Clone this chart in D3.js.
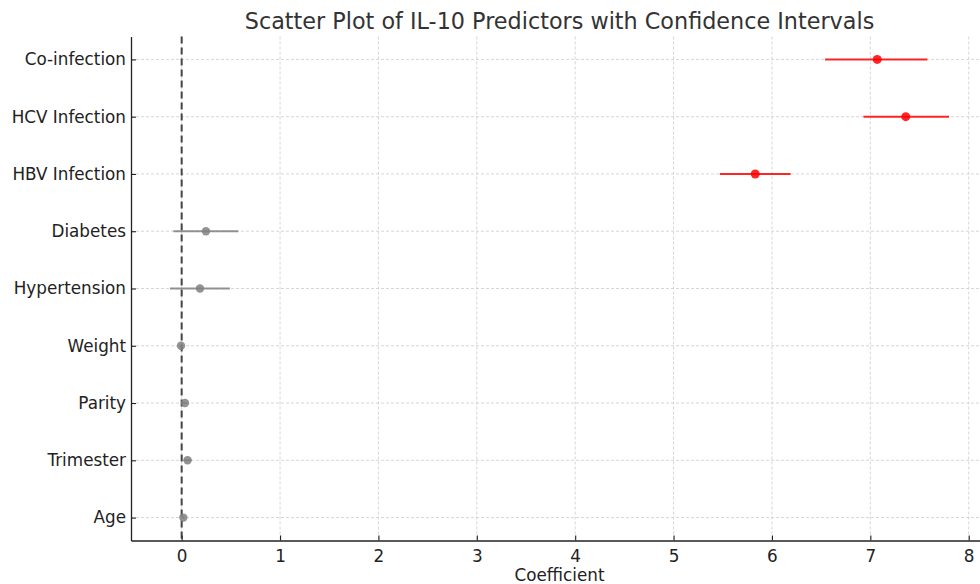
<!DOCTYPE html>
<html>
<head>
<meta charset="utf-8">
<script src="https://cdn.jsdelivr.net/npm/d3@7"></script>
<style>
  body { margin: 0; background: #fff; }
  svg text { font-family: "DejaVu Sans", sans-serif; }
</style>
</head>
<body>
<svg id="chart" width="980" height="584"></svg>
<script>
// Predictors, bottom to top as drawn
var predictors = ["Age", "Trimester", "Parity", "Weight", "Hypertension", "Diabetes",
                  "HBV Infection", "HCV Infection", "Co-infection"];
var coefs = [0.017, 0.06, 0.034, -0.007, 0.186, 0.247, 5.83, 7.36, 7.07];
var ciLow = [0.005, 0.02, 0.015, -0.02, -0.119, -0.085, 5.47, 6.93, 6.54];
var ciHigh = [0.03, 0.10, 0.05, 0.005, 0.49, 0.575, 6.19, 7.80, 7.58];
var significant = [false, false, false, false, false, false, true, true, true];
var xTicks = [0, 1, 2, 3, 4, 5, 6, 7, 8];

var svg = d3.select("#chart");

// Plot area (right side runs past the picture edge, like the original)
var plotLeft = 131, plotRight = 988, plotTop = 36.5, plotBottom = 540.5;

var x = d3.scaleLinear()
  .domain([-0.515, 8.196])
  .range([plotLeft, plotRight]);

var y = d3.scaleLinear()
  .domain([-0.4, predictors.length - 1 + 0.4])
  .range([plotBottom, plotTop]);

// Grid lines
svg.append("g").selectAll("line.vgrid")
  .data(xTicks)
  .enter().append("line")
  .attr("x1", function(d) { return x(d); })
  .attr("x2", function(d) { return x(d); })
  .attr("y1", plotTop)
  .attr("y2", plotBottom)
  .attr("stroke", "#cccccc")
  .attr("stroke-width", 0.8)
  .attr("stroke-dasharray", "3,2");

svg.append("g").selectAll("line.hgrid")
  .data(predictors)
  .enter().append("line")
  .attr("x1", plotLeft)
  .attr("x2", plotRight)
  .attr("y1", function(d, i) { return y(i); })
  .attr("y2", function(d, i) { return y(i); })
  .attr("stroke", "#cccccc")
  .attr("stroke-width", 0.8)
  .attr("stroke-dasharray", "3,2");

// Zero reference line
svg.append("line")
  .attr("x1", x(0))
  .attr("x2", x(0))
  .attr("y1", plotTop)
  .attr("y2", plotBottom)
  .attr("stroke", "#444")
  .attr("stroke-width", 2)
  .attr("stroke-dasharray", "7,4");

// Error bars and points
var rows = svg.append("g").selectAll("g.row")
  .data(predictors)
  .enter().append("g")
  .attr("class", "row");

rows.append("line")
  .attr("x1", function(d, i) { return x(ciLow[i]); })
  .attr("x2", function(d, i) { return x(ciHigh[i]); })
  .attr("y1", function(d, i) { return y(i); })
  .attr("y2", function(d, i) { return y(i); })
  .attr("stroke", function(d, i) { return significant[i] ? "#ff0000" : "#808080"; })
  .attr("stroke-opacity", 0.85)
  .attr("stroke-width", 2);

rows.append("circle")
  .attr("cx", function(d, i) { return x(coefs[i]); })
  .attr("cy", function(d, i) { return y(i); })
  .attr("r", function(d, i) { return significant[i] ? 4.5 : 4.2; })
  .attr("fill", function(d, i) { return significant[i] ? "#ff0000" : "#808080"; })
  .attr("fill-opacity", 0.85);

// Axes
var xAxis = d3.axisBottom(x)
  .tickValues(xTicks)
  .tickSizeInner(-5)
  .tickSizeOuter(0)
  .tickPadding(10);

svg.append("g")
  .attr("transform", "translate(0," + plotBottom + ")")
  .call(xAxis)
  .call(function(g) {
    g.select(".domain").attr("stroke", "#222").attr("stroke-width", 1.3);
    g.selectAll(".tick line").attr("stroke", "#222").attr("stroke-width", 1.1);
    g.selectAll(".tick text").attr("font-size", "16.8px").attr("fill", "#222");
  });

var yAxis = d3.axisLeft(y)
  .tickValues(d3.range(predictors.length))
  .tickFormat(function(i) { return predictors[i]; })
  .tickSizeInner(-5)
  .tickSizeOuter(0)
  .tickPadding(5);

svg.append("g")
  .attr("transform", "translate(" + plotLeft + ",0)")
  .call(yAxis)
  .call(function(g) {
    g.select(".domain").attr("stroke", "#222").attr("stroke-width", 1.3);
    g.selectAll(".tick line").attr("stroke", "#222").attr("stroke-width", 1.1);
    g.selectAll(".tick text").attr("font-size", "16.8px").attr("fill", "#222");
  });

// Title and axis label
svg.append("text")
  .attr("x", (plotLeft + plotRight) / 2)
  .attr("y", 29)
  .attr("text-anchor", "middle")
  .attr("font-size", "22.3px")
  .attr("fill", "#333")
  .text("Scatter Plot of IL-10 Predictors with Confidence Intervals");

svg.append("text")
  .attr("x", (plotLeft + plotRight) / 2)
  .attr("y", 581)
  .attr("text-anchor", "middle")
  .attr("font-size", "16.8px")
  .attr("fill", "#222")
  .text("Coefficient");
</script>
</body>
</html>
